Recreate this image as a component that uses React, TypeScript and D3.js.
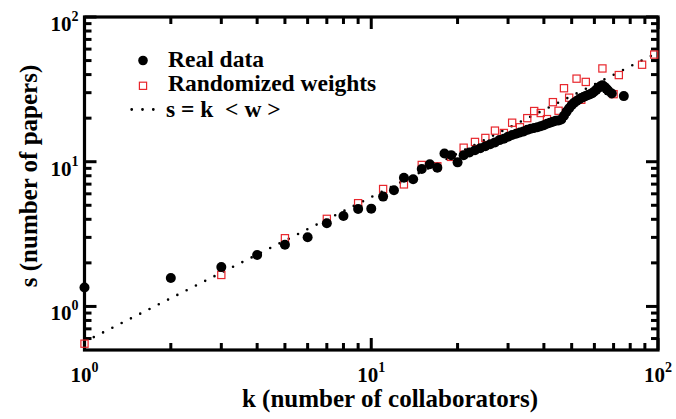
import React from "react";
import * as d3 from "d3";

// Real data: strength s vs degree k
const realK = [1, 2, 3, 4, 5, 6, 7, 8, 9, 10, 11, 12, 13, 14, 15, 16, 17, 18, 19, 20,
  21, 22, 23, 24, 25, 26, 27, 28, 29, 30, 31, 32, 33, 34, 35, 36, 37, 38, 39, 40,
  41, 42, 43, 44, 45, 46, 47, 48, 49, 50, 51, 52, 53, 54, 55, 56, 57, 58, 59, 60,
  61, 62, 63, 64, 65, 66, 67, 69, 76];
const realS = [1.35, 1.57, 1.87, 2.27, 2.67, 3.01, 3.76, 4.22, 4.72, 4.74, 5.74, 6.35, 7.75, 7.56, 8.9, 9.6, 9.1, 11.4, 11.1, 9.9,
  11.1, 11.6, 12.0, 12.4, 12.8, 13.2, 13.6, 14.1, 14.4, 14.9, 15.3, 15.6, 15.9, 16.2, 16.6, 16.9, 17.1, 17.3, 17.6, 17.9,
  18.3, 18.6, 18.9, 19.2, 19.3, 19.6, 20.8, 22.2, 23.4, 24.6, 25.6, 26.3, 26.9, 27.6, 28.0, 28.5, 28.9, 29.3, 29.8, 30.6,
  31.5, 32.4, 33.2, 33.7, 33.0, 32.0, 31.0, 29.6, 28.4];

// Randomized weights
const randK = [1, 3, 5, 7, 9, 11, 13, 15, 17, 19, 21, 23, 25, 27, 29, 31, 33, 35, 37, 39,
  41, 43, 45, 47, 49, 52, 54, 56, 64, 70, 73, 88, 97];
const randS = [0.553, 1.65, 2.96, 4.03, 5.17, 6.48, 6.97, 9.5, 9.3, 10.8, 12.5, 13.7, 14.6, 16.4, 15.8, 18.6, 17.3, 20.0, 22.4, 21.7,
  19.7, 25.8, 22.5, 32.2, 27.7, 37.5, 26.8, 35.6, 44.1, 29.3, 39.7, 46.8, 55];

// Mean weight <w> for the reference line s = k <w>
const meanW = 0.57;
const lineK = [1, 100];

const xDecades = [1, 10, 100];
const yDecades = [1, 10, 100];
const xTickLabels = ["0", "1", "2"];
const yTickLabels = ["0", "1", "2"];

const W = 676;
const H = 419;
const left = 84.5;
const right = 658;
const top = 17;
const bottom = 350;

const FONT = "'Liberation Serif', 'Times New Roman', serif";
const RED = "#e8262c";

export default function App() {
  const x = d3.scaleLog().domain([1, 100]).range([left, right]);
  const y = d3.scaleLog().domain([0.5, 100]).range([bottom, top]);

  const minorX: number[] = [];
  [1, 10].forEach((d) => {
    for (let m = 2; m <= 9; m++) minorX.push(d * m);
  });
  const minorY: number[] = [0.6, 0.7, 0.8, 0.9];
  [1, 10].forEach((d) => {
    for (let m = 2; m <= 9; m++) minorY.push(d * m);
  });

  const majLen = 12;
  const minLen = 7;
  const tickW = 3;

  const line = d3
    .line<number>()
    .x((k) => x(k))
    .y((k) => y(k * meanW));

  return (
    <svg
      width={W}
      height={H}
      style={{ position: "absolute", left: 0, top: 0, display: "block", background: "#fff" }}
      fontFamily={FONT}
      fontWeight="bold"
    >
      {/* reference line s = k <w> */}
      <path
        d={line(lineK) || ""}
        fill="none"
        stroke="#000"
        strokeWidth={2.6}
        strokeLinecap="round"
        strokeDasharray="0 10.4"
      />

      {/* frame */}
      <rect x={left} y={top} width={right - left} height={bottom - top} fill="none" stroke="#000" strokeWidth={3.2} />

      {/* x ticks, bottom and top, pointing inward */}
      <g stroke="#000" strokeWidth={tickW}>
        {xDecades.map((d) => (
          <g key={"xM" + d}>
            <line x1={x(d)} x2={x(d)} y1={bottom} y2={bottom - majLen} />
            <line x1={x(d)} x2={x(d)} y1={top} y2={top + majLen} />
          </g>
        ))}
        {minorX.map((d) => (
          <g key={"xm" + d}>
            <line x1={x(d)} x2={x(d)} y1={bottom} y2={bottom - minLen} />
            <line x1={x(d)} x2={x(d)} y1={top} y2={top + minLen} />
          </g>
        ))}
        {yDecades.map((d) => (
          <g key={"yM" + d}>
            <line x1={left} x2={left + majLen} y1={y(d)} y2={y(d)} />
            <line x1={right} x2={right - majLen} y1={y(d)} y2={y(d)} />
          </g>
        ))}
        {minorY.map((d) => (
          <g key={"ym" + d}>
            <line x1={left} x2={left + minLen} y1={y(d)} y2={y(d)} />
            <line x1={right} x2={right - minLen} y1={y(d)} y2={y(d)} />
          </g>
        ))}
      </g>

      {/* x tick labels */}
      {xDecades.map((d, i) => (
        <text key={"xl" + d} x={x(d)} y={bottom + 32} textAnchor="middle" fontSize={21}>
          10
          <tspan dy={-10} fontSize={14}>
            {xTickLabels[i]}
          </tspan>
        </text>
      ))}

      {/* y tick labels */}
      {yDecades.map((d, i) => (
        <text key={"yl" + d} x={left - 6} y={y(d) + 14} textAnchor="end" fontSize={21}>
          10
          <tspan dy={-10} fontSize={14}>
            {yTickLabels[i]}
          </tspan>
        </text>
      ))}

      {/* axis titles */}
      <text x={390} y={407} textAnchor="middle" fontSize={25}>
        k (number of collaborators)
      </text>
      <text transform={`translate(37,176) rotate(-90)`} textAnchor="middle" fontSize={25}>
        s (number of papers)
      </text>

      {/* randomized weights */}
      {randK.map((k, i) => (
        <rect
          key={"r" + i}
          x={x(k) - 3.6}
          y={y(randS[i]) - 3.6}
          width={7.2}
          height={7.2}
          fill="none"
          stroke={RED}
          strokeWidth={1.2}
        />
      ))}

      {/* real data */}
      {realK.map((k, i) => (
        <circle key={"c" + i} cx={x(k)} cy={y(realS[i])} r={5} fill="#000" />
      ))}

      {/* legend */}
      <circle cx={143} cy={60.5} r={4.8} fill="#000" />
      <text x={168} y={67} fontSize={23.5}>Real data</text>
      <rect x={139.4} y={82.2} width={7.2} height={7.2} fill="none" stroke={RED} strokeWidth={1.2} />
      <text x={168} y={91} fontSize={23.5}>Randomized weights</text>
      <line
        x1={131.7}
        x2={153.5}
        y1={109.5}
        y2={109.5}
        stroke="#000"
        strokeWidth={2.8}
        strokeLinecap="round"
        strokeDasharray="0 10.8"
      />
      <text x={166} y={117} fontSize={23.5}>
        s = k {"\u00A0"}&lt; w &gt;
      </text>
    </svg>
  );
}
